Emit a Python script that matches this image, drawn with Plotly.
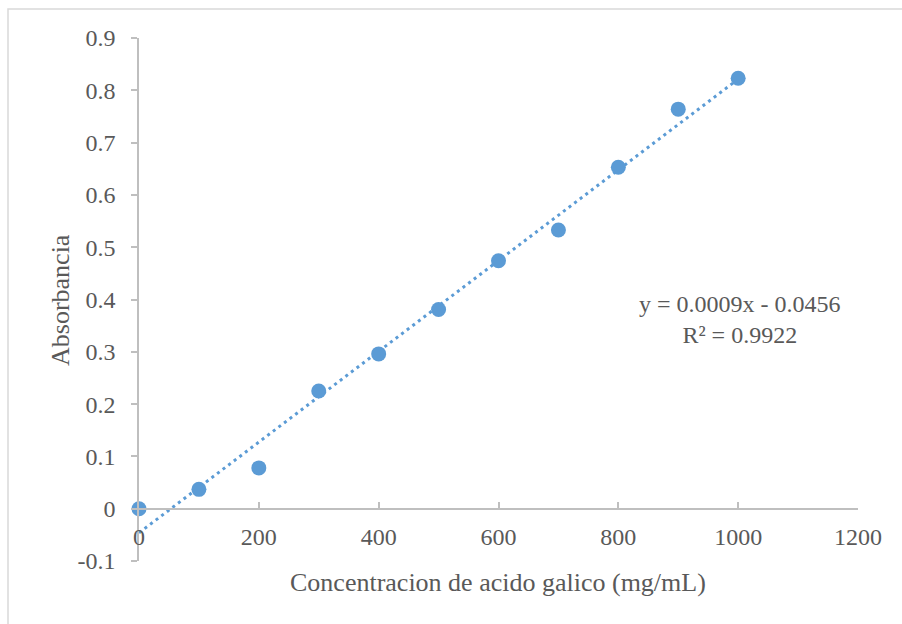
import numpy as np
import plotly.graph_objects as go

concentracion = [0, 100, 200, 300, 400, 500, 600, 700, 800, 900, 1000]
absorbancia = [0.0, 0.037, 0.078, 0.225, 0.296, 0.381, 0.474, 0.533, 0.653, 0.764, 0.823]
x_ticks = [0, 200, 400, 600, 800, 1000, 1200]
y_ticks = [-0.1, 0, 0.1, 0.2, 0.3, 0.4, 0.5, 0.6, 0.7, 0.8, 0.9]
y_tick_labels = ["-0.1", "0", "0.1", "0.2", "0.3", "0.4", "0.5", "0.6", "0.7", "0.8", "0.9"]
equation_text = "y = 0.0009x - 0.0456<br>R² = 0.9922"

slope, intercept = np.polyfit(concentracion, absorbancia, 1)
trend_x = [min(concentracion), max(concentracion)]
trend_y = [slope * v + intercept for v in trend_x]

FONT = "Liberation Serif, Times New Roman, serif"
GRAY = "#595959"
BLUE = "#5B9BD5"
AXIS = "#BFBFBF"

W, H = 902, 624
ML, MR, MT, MB = 139, 44, 38, 63
pw, ph = W - ML - MR, H - MT - MB

fig = go.Figure()
fig.add_trace(go.Scatter(x=trend_x, y=trend_y, mode="lines",
                         line=dict(color=BLUE, width=3, dash="3px,4px"),
                         hoverinfo="skip", showlegend=False, cliponaxis=False))
fig.add_trace(go.Scatter(x=concentracion, y=absorbancia, mode="markers",
                         marker=dict(color=BLUE, size=15, line=dict(width=0)),
                         showlegend=False, cliponaxis=False))

ymin, ymax = -0.1, 0.9
fig.update_layout(
    width=W, height=H,
    margin=dict(l=ML, r=MR, t=MT, b=MB, pad=0),
    paper_bgcolor="white", plot_bgcolor="white",
    font=dict(family=FONT, color=GRAY, size=24),
    xaxis=dict(range=[0, 1200], tickvals=x_ticks, ticktext=[str(v) for v in x_ticks],
               showgrid=False, zeroline=False, showline=True, linecolor=AXIS, linewidth=1.5,
               ticks="inside", ticklen=6, tickcolor=AXIS, tickwidth=1.5,
               anchor="free", position=(0 - ymin) / (ymax - ymin),
               ticklabelstandoff=7,
               tickfont=dict(family=FONT, color=GRAY, size=24)),
    yaxis=dict(range=[ymin, ymax], tickvals=y_ticks, ticktext=y_tick_labels,
               showgrid=False, zeroline=False, showline=True, linecolor=AXIS, linewidth=1.5,
               ticks="outside", ticklen=6, tickcolor=AXIS, tickwidth=1.5,
               ticklabelstandoff=11,
               tickfont=dict(family=FONT, color=GRAY, size=24)),
    annotations=[
        dict(x=1003, y=0.361, xref="x", yref="y", text=equation_text, showarrow=False,
             xanchor="center", yanchor="middle",
             align="center", font=dict(family=FONT, color=GRAY, size=24)),
        dict(x=(60 - ML) / pw, y=(H - MB - 300) / ph, xref="paper", yref="paper",
             text="Absorbancia", textangle=-90, showarrow=False,
             xanchor="center", yanchor="middle",
             font=dict(family=FONT, color=GRAY, size=26)),
        dict(x=(498 - ML) / pw, y=(H - MB - 582) / ph, xref="paper", yref="paper",
             text="Concentracion de acido galico (mg/mL)", showarrow=False,
             xanchor="center", yanchor="middle",
             font=dict(family=FONT, color=GRAY, size=26)),
    ],
    shapes=[
        dict(type="rect", xref="paper", yref="paper",
             x0=(8 - ML) / pw, x1=(905 - ML) / pw,
             y0=(H - MB - 628) / ph, y1=(H - MB - 9) / ph,
             line=dict(color="#D9D9D9", width=1.5), fillcolor="rgba(0,0,0,0)", layer="below"),
    ],
)

fig.write_html("out.html")
